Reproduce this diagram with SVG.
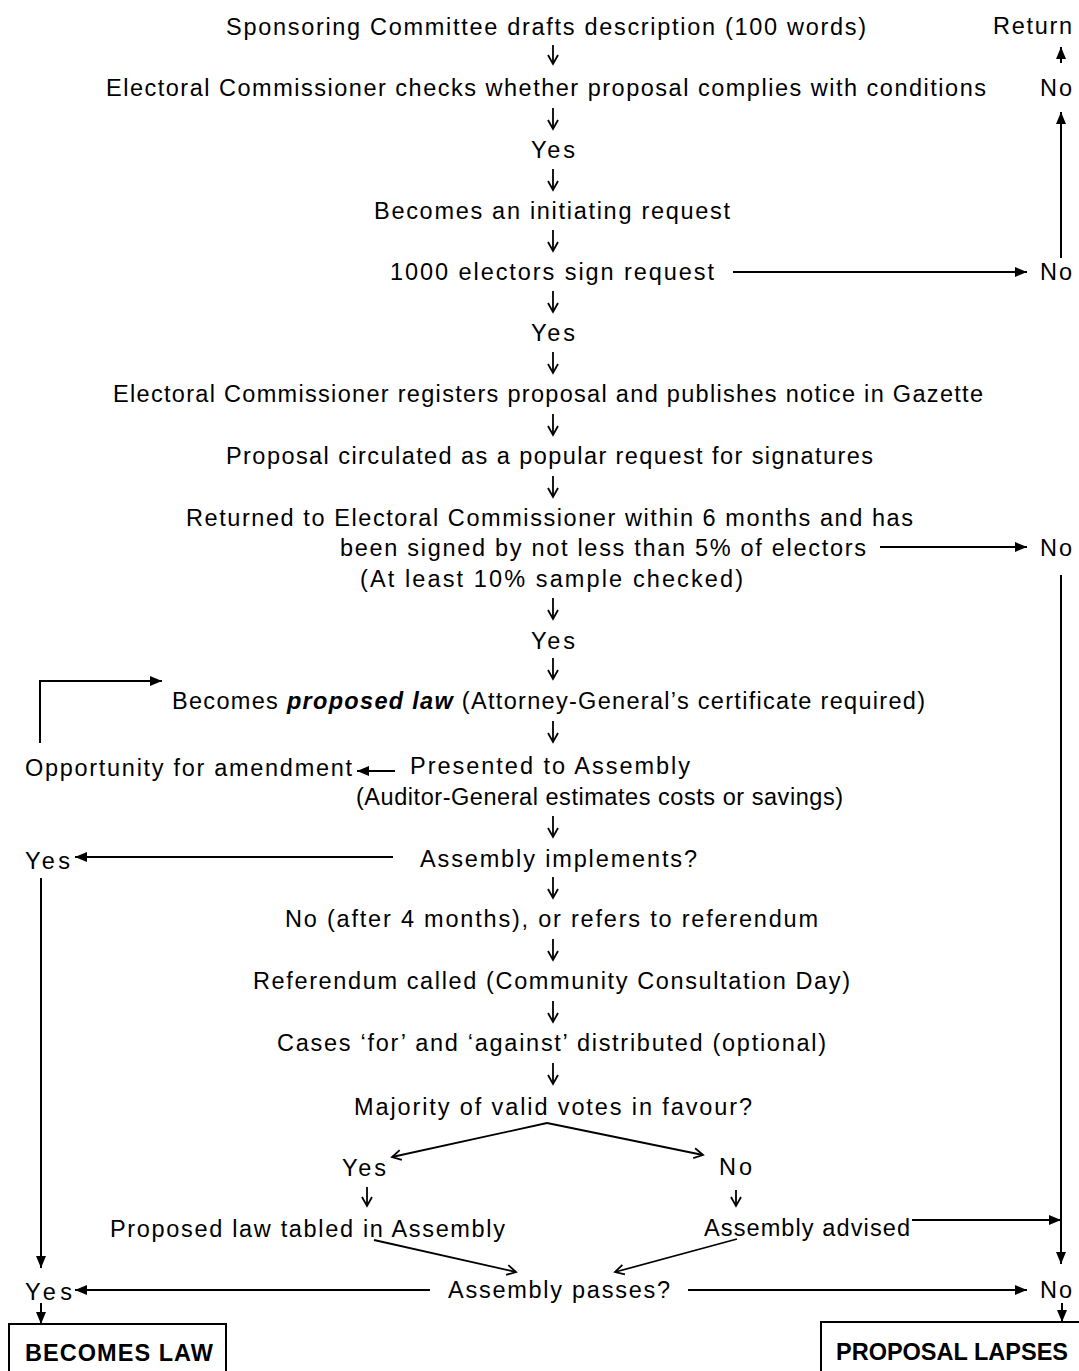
<svg xmlns="http://www.w3.org/2000/svg" width="1079" height="1371" viewBox="0 0 1079 1371">
<defs>
<style>
text{font-family:"Liberation Sans",Arial,sans-serif;font-size:23.5px;fill:#000}
.b{font-weight:bold}
.bi{font-weight:bold;font-style:italic}
.ln{stroke:#000;stroke-width:2;fill:none}
.sm{stroke:#000;stroke-width:1.8;fill:none}
.o{marker-end:url(#open)}
.f{marker-end:url(#fill)}
.box{fill:#fff;stroke:#000;stroke-width:2}
</style>
<marker id="open" markerUnits="userSpaceOnUse" viewBox="0 0 12 12" markerWidth="12" markerHeight="12" refX="10" refY="6" orient="auto">
<path d="M1,1 L10,6 L1,11" fill="none" stroke="#000" stroke-width="1.8"/>
</marker>
<marker id="fill" markerUnits="userSpaceOnUse" viewBox="0 0 12 11" markerWidth="12" markerHeight="11" refX="12" refY="5.5" orient="auto">
<path d="M0,0.5 L12,5.5 L0,10.5 z" fill="#000"/>
</marker>
</defs>

<g id="connectors">
<line class="sm o" x1="553" y1="45" x2="553" y2="64"/>
<line class="sm o" x1="553" y1="108" x2="553" y2="129"/>
<line class="sm o" x1="553" y1="169" x2="553" y2="190"/>
<line class="sm o" x1="553" y1="230" x2="553" y2="251"/>
<line class="sm o" x1="553" y1="291" x2="553" y2="312"/>
<line class="sm o" x1="553" y1="352" x2="553" y2="373"/>
<line class="sm o" x1="553" y1="414" x2="553" y2="435"/>
<line class="sm o" x1="553" y1="476" x2="553" y2="497"/>
<line class="sm o" x1="553" y1="598" x2="553" y2="619"/>
<line class="sm o" x1="553" y1="658" x2="553" y2="679"/>
<line class="sm o" x1="553" y1="721" x2="553" y2="742"/>
<line class="sm o" x1="553" y1="816" x2="553" y2="837"/>
<line class="sm o" x1="553" y1="877" x2="553" y2="898"/>
<line class="sm o" x1="553" y1="939" x2="553" y2="960"/>
<line class="sm o" x1="553" y1="1001" x2="553" y2="1022"/>
<line class="sm o" x1="553" y1="1063" x2="553" y2="1084"/>
<line class="sm o" x1="367" y1="1187" x2="367" y2="1206"/>
<line class="sm o" x1="736" y1="1190" x2="736" y2="1206"/>

<line class="ln f" x1="1061" y1="63" x2="1061" y2="47"/>
<line class="ln f" x1="1061" y1="258" x2="1061" y2="112"/>
<line class="ln f" x1="733" y1="272" x2="1027" y2="272"/>
<line class="ln f" x1="880" y1="547" x2="1027" y2="547"/>
<line class="ln f" x1="1061" y1="575" x2="1061" y2="1264"/>
<path class="ln f" d="M40,743 V681 H162"/>
<line class="ln f" x1="395" y1="771" x2="357" y2="771"/>
<line class="ln f" x1="393" y1="857" x2="75" y2="857"/>
<line class="ln f" x1="41" y1="878" x2="41" y2="1268"/>
<line class="sm o" x1="547" y1="1123" x2="392" y2="1157"/>
<line class="sm o" x1="547" y1="1123" x2="703" y2="1155"/>
<line class="ln f" x1="912" y1="1220" x2="1061" y2="1220"/>
<line class="sm o" x1="374" y1="1240" x2="516" y2="1272"/>
<line class="sm o" x1="737" y1="1239" x2="615" y2="1272"/>
<line class="ln f" x1="430" y1="1290" x2="75" y2="1290"/>
<line class="ln f" x1="688" y1="1290" x2="1027" y2="1290"/>
<line class="ln f" x1="41" y1="1303" x2="41" y2="1324"/>
<line class="ln f" x1="1062" y1="1303" x2="1062" y2="1322"/>
</g>

<g id="n-sponsor"><text x="226" y="35" textLength="640" lengthAdjust="spacing">Sponsoring Committee drafts description (100 words)</text></g>
<g id="n-return"><text x="993" y="34" textLength="79" lengthAdjust="spacing">Return</text></g>
<g id="n-check"><text x="106" y="96" textLength="880" lengthAdjust="spacing">Electoral Commissioner checks whether proposal complies with conditions</text></g>
<g id="n-no1"><text x="1040" y="96" textLength="32" lengthAdjust="spacing">No</text></g>
<g id="n-yes1"><text x="531" y="158" textLength="44" lengthAdjust="spacing">Yes</text></g>
<g id="n-initiating"><text x="374" y="219" textLength="356" lengthAdjust="spacing">Becomes an initiating request</text></g>
<g id="n-1000"><text x="390" y="280" textLength="324" lengthAdjust="spacing">1000 electors sign request</text></g>
<g id="n-no2"><text x="1040" y="280" textLength="32" lengthAdjust="spacing">No</text></g>
<g id="n-yes2"><text x="531" y="341" textLength="44" lengthAdjust="spacing">Yes</text></g>
<g id="n-registers"><text x="113" y="402" textLength="870" lengthAdjust="spacing">Electoral Commissioner registers proposal and publishes notice in Gazette</text></g>
<g id="n-circulated"><text x="226" y="464" textLength="647" lengthAdjust="spacing">Proposal circulated as a popular request for signatures</text></g>
<g id="n-returned">
<text x="186" y="526" textLength="727" lengthAdjust="spacing">Returned to Electoral Commissioner within 6 months and has</text>
<text x="340" y="556" textLength="526" lengthAdjust="spacing">been signed by not less than 5% of electors</text>
<text x="360" y="587" textLength="383" lengthAdjust="spacing">(At least 10% sample checked)</text>
</g>
<g id="n-no3"><text x="1040" y="556" textLength="32" lengthAdjust="spacing">No</text></g>
<g id="n-yes3"><text x="531" y="649" textLength="44" lengthAdjust="spacing">Yes</text></g>
<g id="n-proposed"><text x="172" y="709" textLength="753" lengthAdjust="spacing">Becomes <tspan class="bi">proposed law</tspan> (Attorney-General’s certificate required)</text></g>
<g id="n-amend"><text x="25" y="776" textLength="327" lengthAdjust="spacing">Opportunity for amendment</text></g>
<g id="n-presented">
<text x="410" y="774" textLength="280" lengthAdjust="spacing">Presented to Assembly</text>
<text x="356" y="805" textLength="487" lengthAdjust="spacing">(Auditor-General estimates costs or savings)</text>
</g>
<g id="n-yes4"><text x="25" y="869" textLength="45" lengthAdjust="spacing">Yes</text></g>
<g id="n-implements"><text x="420" y="867" textLength="277" lengthAdjust="spacing">Assembly implements?</text></g>
<g id="n-after4"><text x="285" y="927" textLength="533" lengthAdjust="spacing">No (after 4 months), or refers to referendum</text></g>
<g id="n-referendum"><text x="253" y="989" textLength="597" lengthAdjust="spacing">Referendum called (Community Consultation Day)</text></g>
<g id="n-cases"><text x="277" y="1051" textLength="549" lengthAdjust="spacing">Cases ‘for’ and ‘against’ distributed (optional)</text></g>
<g id="n-majority"><text x="354" y="1115" textLength="398" lengthAdjust="spacing">Majority of valid votes in favour?</text></g>
<g id="n-yes5"><text x="342" y="1176" textLength="44" lengthAdjust="spacing">Yes</text></g>
<g id="n-no4"><text x="719" y="1175" textLength="33" lengthAdjust="spacing">No</text></g>
<g id="n-tabled"><text x="110" y="1237" textLength="395" lengthAdjust="spacing">Proposed law tabled in Assembly</text></g>
<g id="n-advised"><text x="704" y="1236" textLength="206" lengthAdjust="spacing">Assembly advised</text></g>
<g id="n-yes6"><text x="25" y="1300" textLength="47" lengthAdjust="spacing">Yes</text></g>
<g id="n-passes"><text x="448" y="1298" textLength="222" lengthAdjust="spacing">Assembly passes?</text></g>
<g id="n-no5"><text x="1040" y="1298" textLength="32" lengthAdjust="spacing">No</text></g>
<g id="n-law"><rect class="box" x="9" y="1324" width="217" height="60"/><text class="b" x="25" y="1361" textLength="188" lengthAdjust="spacing">BECOMES LAW</text></g>
<g id="n-lapses"><rect class="box" x="821" y="1322" width="270" height="60"/><text class="b" x="836" y="1360" textLength="232" lengthAdjust="spacing">PROPOSAL LAPSES</text></g>
</svg>
